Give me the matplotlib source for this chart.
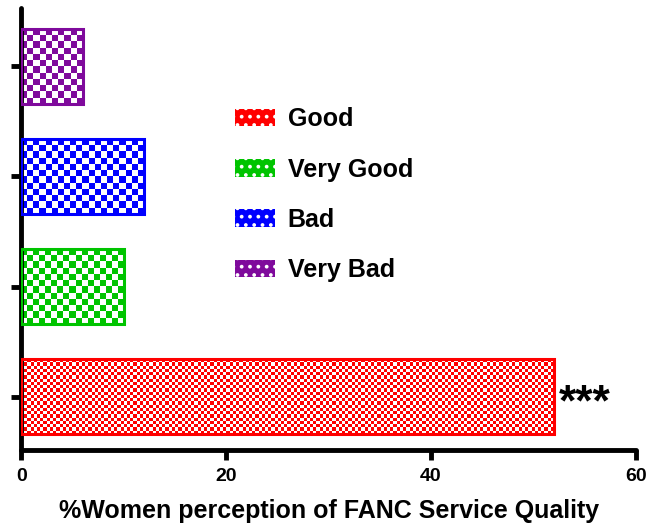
"""Women's perception of FANC service quality - horizontal checkered bars."""
import numpy as np
import matplotlib.pyplot as plt
from matplotlib.colors import to_rgba
from matplotlib.patches import Patch

categories = ["Good", "Very Good", "Bad", "Very Bad"]
percent = [52, 10, 12, 6]
colors = ["#ff0000", "#00c400", "#0000ff", "#7f0a9c"]
cell_px = [3.2, 6.0, 6.0, 6.0]  # checker cell size (pixels) per bar
xticks = [0, 20, 40, 60]

plt.rcParams["font.family"] = ["Liberation Sans", "DejaVu Sans"]
plt.rcParams["font.weight"] = "bold"
plt.rcParams["hatch.linewidth"] = 1.5

fig = plt.figure(figsize=(6.5, 5.23), dpi=100)
ax = fig.add_axes([0.033, 0.14, 0.945, 0.845])
ax.set_xlim(0, 60)
ax.set_ylim(-0.48, 3.53)

ypos = np.arange(len(categories))
bars = ax.barh(ypos, percent, height=0.68, color="none", edgecolor=colors,
               linewidth=2.2, zorder=3)

fig.canvas.draw()
for bar, col, cp in zip(bars, colors, cell_px):
    x0, y0 = bar.get_x(), bar.get_y()
    w, h = bar.get_width(), bar.get_height()
    (px0, py0), (px1, py1) = ax.transData.transform([(x0, y0), (x0 + w, y0 + h)])
    nx = max(1, int(round(abs(px1 - px0) / cp)))
    ny = max(1, int(round(abs(py1 - py0) / cp)))
    ii, jj = np.meshgrid(np.arange(nx), np.arange(ny))
    mask = (ii + jj) % 2 == 0
    img = np.ones((ny, nx, 4))
    img[mask] = to_rgba(col)
    im = ax.imshow(img, extent=[x0, x0 + w, y0, y0 + h], aspect="auto",
                   interpolation="nearest", zorder=2)
    im.set_clip_path(bar)
ax.set_xlim(0, 60)
ax.set_ylim(-0.48, 3.53)

ax.text(percent[0] + 0.5, ypos[0] - 0.06, "***", fontsize=32,
        fontweight="bold", va="center", ha="left")

for s in ["top", "right"]:
    ax.spines[s].set_visible(False)
for s in ["left", "bottom"]:
    ax.spines[s].set_linewidth(3.5)
    ax.spines[s].set_capstyle("round")

ax.set_yticks(ypos)
ax.set_yticklabels([])
ax.set_xticks(xticks)
ax.tick_params(axis="both", width=3.5, length=7, labelsize=14)
ax.tick_params(axis="x", pad=6)
ax.set_xlabel("%Women perception of FANC Service Quality", fontsize=18,
              fontweight="bold", labelpad=10)

handles = [Patch(facecolor=c, edgecolor="white", linewidth=0, hatch="..",
                 label=l) for c, l in zip(colors, categories)]
ax.legend(handles=handles, loc="upper left", bbox_to_anchor=(0.348, 0.775),
          frameon=False, fontsize=18, handlelength=1.6, handleheight=0.7,
          labelspacing=1.05, handletextpad=0.5, borderpad=0,
          borderaxespad=0)

plt.savefig("out.png", dpi=100)
